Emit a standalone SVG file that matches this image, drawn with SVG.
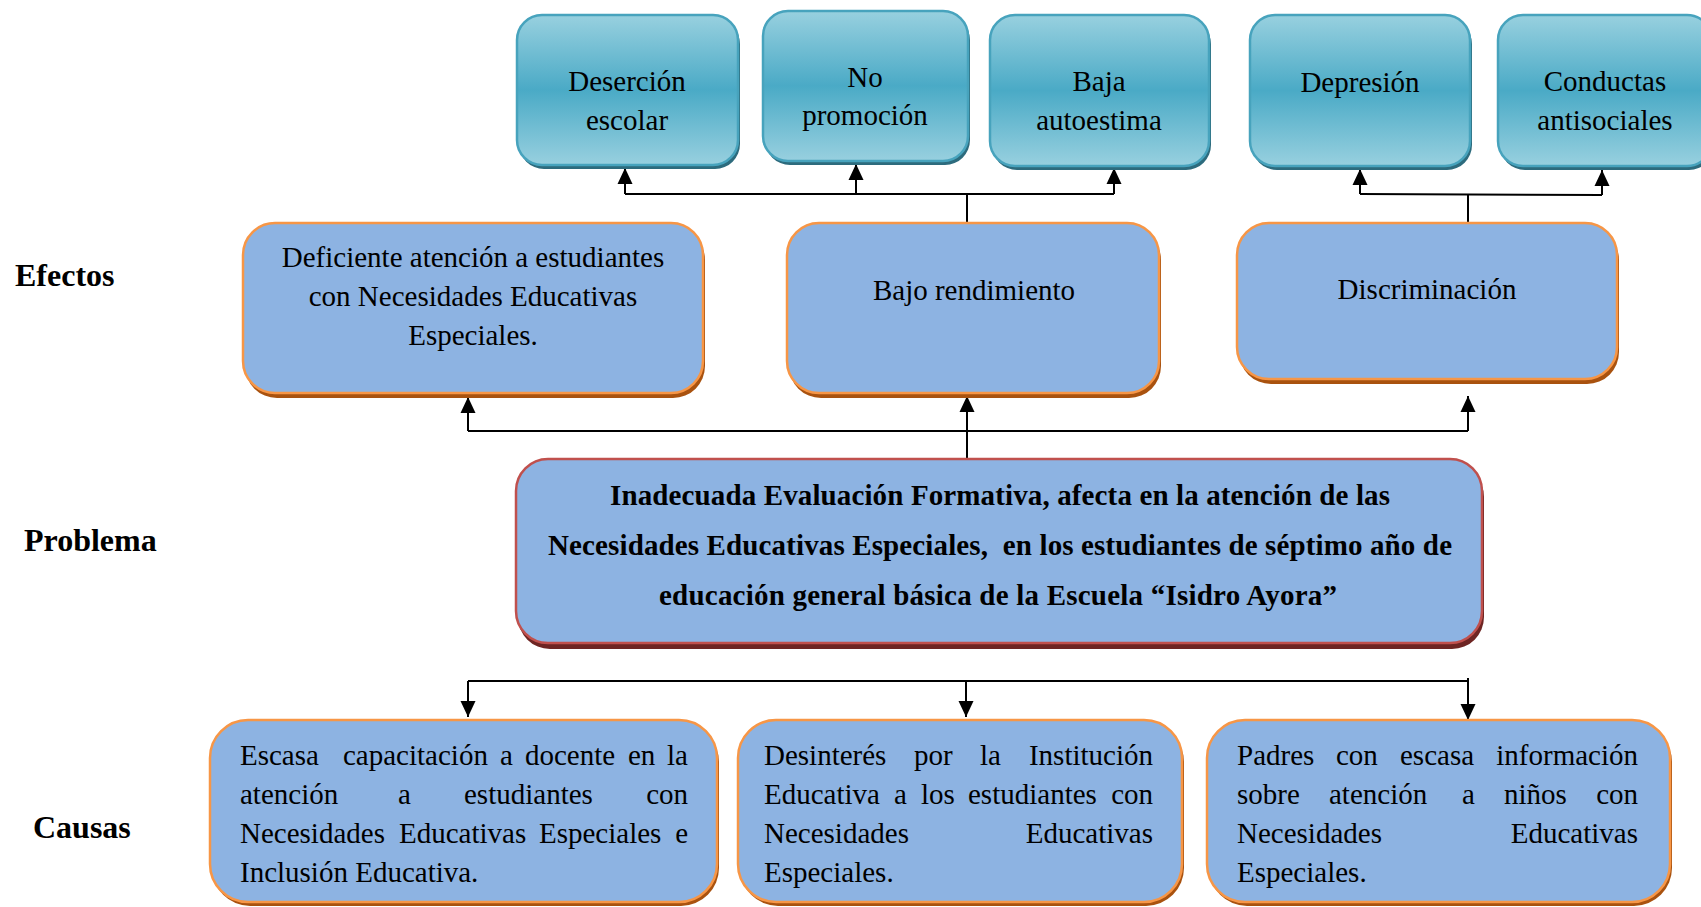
<svg xmlns="http://www.w3.org/2000/svg" width="1701" height="907" viewBox="0 0 1701 907">
<defs>
<linearGradient id="teal" x1="0" y1="0" x2="0" y2="1">
<stop offset="0" stop-color="#98d0df"/>
<stop offset="0.5" stop-color="#4aaac6"/>
<stop offset="1" stop-color="#98d0df"/>
</linearGradient>
<marker id="arr" viewBox="0 0 16 16" markerWidth="16" markerHeight="16" refX="16" refY="8" orient="auto" markerUnits="userSpaceOnUse">
<path d="M0,0.5 L16,8 L0,15.5 z" fill="#000"/>
</marker>
<style>
.t{font-family:"Liberation Serif","Times New Roman",serif;font-size:29px;fill:#000}
.c{text-anchor:middle}
.e{text-anchor:end}
.b{font-weight:bold}
.lab{font-family:"Liberation Serif","Times New Roman",serif;font-size:32px;font-weight:bold;fill:#000}
.topbox{fill:url(#teal);stroke:#47a3bd;stroke-width:2.5}
.topsh{fill:#2d6b7d}
.ebox{fill:#8db3e2;stroke:#f79646;stroke-width:2.5}
.esh{fill:#a9520f}
.pbox{fill:#8db3e2;stroke:#c0504d;stroke-width:2.5}
.psh{fill:#6e2523}
.ln{stroke:#000;stroke-width:2;fill:none}
.ar{stroke:#000;stroke-width:2;fill:none;marker-end:url(#arr)}
</style>
</defs>
<rect width="1701" height="907" fill="#fff"/>

<g id="labels">
<text class="lab" x="15" y="286">Efectos</text>
<text class="lab" x="24" y="551">Problema</text>
<text class="lab" x="33" y="838">Causas</text>
</g>

<g id="connectors">
<path class="ln" d="M625,194 H1114"/>
<path class="ar" d="M625,194 V168"/>
<path class="ar" d="M856,194 V164"/>
<path class="ar" d="M1114,194 V168"/>
<path class="ln" d="M967,194 V224"/>
<path class="ln" d="M1360,194 L1602,195"/>
<path class="ar" d="M1360,194 V169"/>
<path class="ar" d="M1602,195 V170"/>
<path class="ln" d="M1468,194 V224"/>
<path class="ln" d="M468,431 H1468"/>
<path class="ar" d="M468,431 V397"/>
<path class="ar" d="M967,459 V396"/>
<path class="ar" d="M1468,431 V396"/>
<path class="ln" d="M468,681 H1468 V678"/>
<path class="ar" d="M468,681 V717"/>
<path class="ar" d="M966,681 V717"/>
<path class="ar" d="M1468,681 V720"/>
</g>

<g id="desercion">
<rect class="topsh" x="519" y="19" width="221" height="150" rx="25"/>
<rect class="topbox" x="517" y="15" width="221" height="150" rx="25"/>
<text class="t c" x="627" y="91">Deserción</text>
<text class="t c" x="627" y="130">escolar</text>
</g>
<g id="nopromocion">
<rect class="topsh" x="765" y="15" width="205" height="150" rx="25"/>
<rect class="topbox" x="763" y="11" width="205" height="150" rx="25"/>
<text class="t c" x="865" y="87">No</text>
<text class="t c" x="865" y="125">promoción</text>
</g>
<g id="baja">
<rect class="topsh" x="992" y="19" width="219" height="151" rx="25"/>
<rect class="topbox" x="990" y="15" width="219" height="151" rx="25"/>
<text class="t c" x="1099" y="91">Baja</text>
<text class="t c" x="1099" y="130">autoestima</text>
</g>
<g id="depresion">
<rect class="topsh" x="1252" y="19" width="220" height="151" rx="25"/>
<rect class="topbox" x="1250" y="15" width="220" height="151" rx="25"/>
<text class="t c" x="1360" y="92">Depresión</text>
</g>
<g id="conductas">
<rect class="topsh" x="1500" y="19" width="214" height="151" rx="25"/>
<rect class="topbox" x="1498" y="15" width="214" height="151" rx="25"/>
<text class="t c" x="1605" y="91">Conductas</text>
<text class="t c" x="1605" y="130">antisociales</text>
</g>

<g id="deficiente">
<rect class="esh" x="245" y="228" width="460" height="170" rx="32"/>
<rect class="ebox" x="243" y="223" width="460" height="170" rx="32"/>
<text class="t c" x="473" y="267">Deficiente atención a estudiantes</text>
<text class="t c" x="473" y="306">con Necesidades Educativas</text>
<text class="t c" x="473" y="345">Especiales.</text>
</g>
<g id="bajorendimiento">
<rect class="esh" x="789" y="228" width="372" height="170" rx="32"/>
<rect class="ebox" x="787" y="223" width="372" height="170" rx="32"/>
<text class="t c" x="974" y="300">Bajo rendimiento</text>
</g>
<g id="discriminacion">
<rect class="esh" x="1239" y="228" width="380" height="156" rx="32"/>
<rect class="ebox" x="1237" y="223" width="380" height="156" rx="32"/>
<text class="t c" x="1427" y="299">Discriminación</text>
</g>

<g id="problema">
<rect class="psh" x="518" y="465" width="966" height="184" rx="32"/>
<rect class="pbox" x="516" y="459" width="966" height="184" rx="32"/>
<text class="t b" x="610" y="505" textLength="780" lengthAdjust="spacing">Inadecuada Evaluación Formativa, afecta en la atención de las</text>
<text class="t b" x="548" y="555" textLength="904" lengthAdjust="spacing" xml:space="preserve">Necesidades Educativas Especiales,  en los estudiantes de séptimo año de</text>
<text class="t b" x="659" y="605" textLength="678" lengthAdjust="spacing">educación general básica de la Escuela “Isidro Ayora”</text>
</g>

<g id="escasa">
<rect class="esh" x="212" y="724" width="507" height="182" rx="38"/>
<rect class="ebox" x="210" y="720" width="507" height="182" rx="38"/>
<text class="t" y="765"><tspan x="240">Escasa</tspan><tspan x="343">capacitación</tspan><tspan x="500">a</tspan><tspan x="525">docente</tspan><tspan x="628">en</tspan><tspan x="688" text-anchor="end">la</tspan></text>
<text class="t" y="804"><tspan x="240">atención</tspan><tspan x="398">a</tspan><tspan x="464">estudiantes</tspan><tspan x="688" text-anchor="end">con</tspan></text>
<text class="t" y="843"><tspan x="240">Necesidades</tspan><tspan x="399">Educativas</tspan><tspan x="539">Especiales</tspan><tspan x="688" text-anchor="end">e</tspan></text>
<text class="t" x="240" y="882">Inclusión Educativa.</text>
</g>
<g id="desinteres">
<rect class="esh" x="740" y="724" width="444" height="182" rx="38"/>
<rect class="ebox" x="738" y="720" width="444" height="182" rx="38"/>
<text class="t" y="765"><tspan x="764">Desinterés</tspan><tspan x="914">por</tspan><tspan x="980">la</tspan><tspan x="1153" text-anchor="end">Institución</tspan></text>
<text class="t" y="804"><tspan x="764">Educativa</tspan><tspan x="894">a</tspan><tspan x="921">los</tspan><tspan x="968">estudiantes</tspan><tspan x="1153" text-anchor="end">con</tspan></text>
<text class="t" y="843"><tspan x="764">Necesidades</tspan><tspan x="1153" text-anchor="end">Educativas</tspan></text>
<text class="t" x="764" y="882">Especiales.</text>
</g>
<g id="padres">
<rect class="esh" x="1209" y="724" width="463" height="182" rx="38"/>
<rect class="ebox" x="1207" y="720" width="463" height="182" rx="38"/>
<text class="t" y="765"><tspan x="1237">Padres</tspan><tspan x="1336">con</tspan><tspan x="1400">escasa</tspan><tspan x="1638" text-anchor="end">información</tspan></text>
<text class="t" y="804"><tspan x="1237">sobre</tspan><tspan x="1329">atención</tspan><tspan x="1462">a</tspan><tspan x="1504">niños</tspan><tspan x="1638" text-anchor="end">con</tspan></text>
<text class="t" y="843"><tspan x="1237">Necesidades</tspan><tspan x="1638" text-anchor="end">Educativas</tspan></text>
<text class="t" x="1237" y="882">Especiales.</text>
</g>
</svg>
